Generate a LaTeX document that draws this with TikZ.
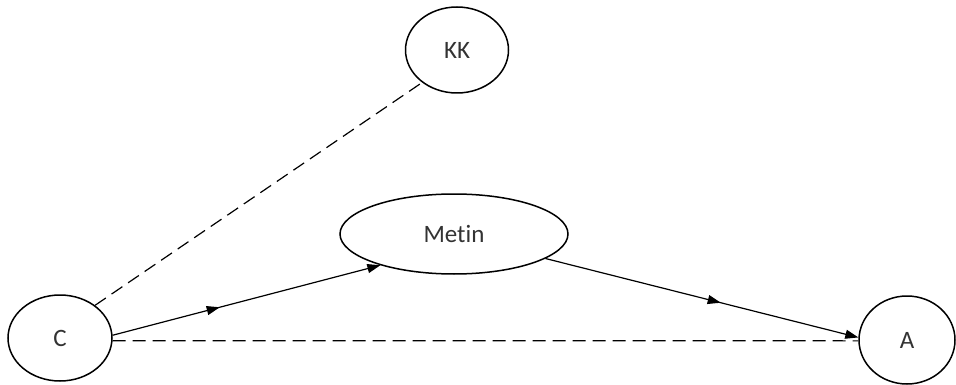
\documentclass[tikz,border=0pt]{standalone}
\usepackage{fontspec}
\setmainfont[Ligatures=NoCommon]{Carlito}
\usetikzlibrary{shapes.geometric,arrows.meta,decorations.markings}
\begin{document}
\begin{tikzpicture}[x=1pt,y=-1pt,
  oval/.style={ellipse,draw=black,line width=1.5pt,inner sep=0pt,
    font=\fontsize{25}{28}\selectfont,text=black!80},
  link/.style={line width=1.2pt,draw=black},
  dashlink/.style={link,dash pattern=on 13pt off 7pt},
  tip/.style={-{Triangle[length=13pt,width=9pt]}},
  midtip/.style={postaction={decorate},decoration={markings,
    mark=at position #1 with {\arrow{Triangle[length=13pt,width=9pt]}}}}]
  \useasboundingbox (0,0) rectangle (956,385);
  % nodes
  \node[oval,minimum width=104pt,minimum height=86pt] (c) at (60,338) {C};
  \node[oval,minimum width=103pt,minimum height=86pt] (kk) at (457,50) {KK};
  \node[oval,minimum width=228pt,minimum height=80pt] (metin) at (454,234) {Metin};
  \node[oval,minimum width=96pt,minimum height=88pt] (a) at (907,340) {A};
  % connectors
  \draw[dashlink] (c.43) -- (kk.223);
  \draw[dashlink] (c.-3) -- (a.181);
  \draw[link,tip,midtip=0.40] (c.3) -- (metin.203);
  \draw[link,tip,midtip=0.56] (metin.345) -- (a.177);
\end{tikzpicture}
\end{document}
